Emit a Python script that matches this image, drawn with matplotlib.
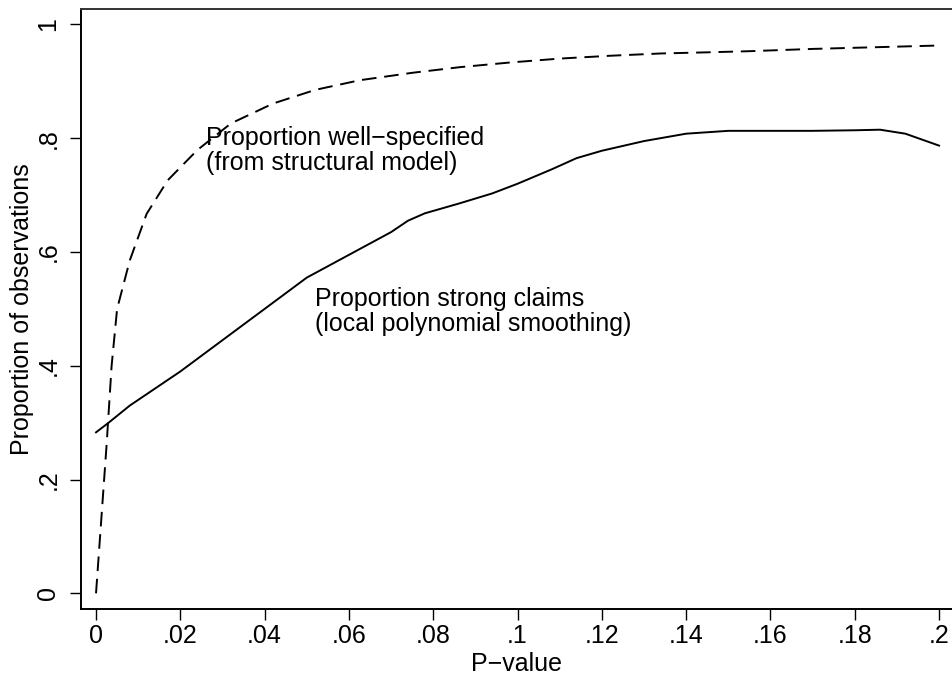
import matplotlib
matplotlib.use("Agg")
import matplotlib.pyplot as plt

plt.rcParams['font.family'] = ['Liberation Sans', 'DejaVu Sans']

# proportion well-specified (structural model)
wellspec_p = [0.0, 0.0025, 0.0037, 0.005, 0.008, 0.012, 0.017, 0.024, 0.032,
              0.042, 0.052, 0.0626, 0.075, 0.0864, 0.098, 0.110, 0.122, 0.134,
              0.145, 0.155, 0.170, 0.185, 0.2]
wellspec_y = [0.0, 0.26, 0.40, 0.50, 0.585, 0.667, 0.726, 0.779, 0.826,
              0.861, 0.885, 0.902, 0.915, 0.925, 0.933, 0.940, 0.945, 0.949,
              0.951, 0.953, 0.957, 0.960, 0.963]

# proportion strong claims (local polynomial smoothing)
strong_p = [0.0, 0.003, 0.008, 0.02, 0.03, 0.04, 0.05, 0.06, 0.07, 0.074,
            0.078, 0.086, 0.094, 0.1, 0.108, 0.114, 0.12, 0.13, 0.14, 0.15,
            0.16, 0.17, 0.18, 0.186, 0.192, 0.2]
strong_y = [0.283, 0.30, 0.33, 0.39, 0.445, 0.50, 0.555, 0.595, 0.635, 0.655,
            0.668, 0.685, 0.703, 0.72, 0.745, 0.765, 0.778, 0.795, 0.808,
            0.813, 0.813, 0.813, 0.814, 0.815, 0.808, 0.787]

xticks = [0, 0.02, 0.04, 0.06, 0.08, 0.1, 0.12, 0.14, 0.16, 0.18, 0.2]
xticklabels = ['0', '.02', '.04', '.06', '.08', '.1', '.12', '.14', '.16', '.18', '.2']
yticks = [0, 0.2, 0.4, 0.6, 0.8, 1.0]
yticklabels = ['0', '.2', '.4', '.6', '.8', '1']

fs = 18

fig = plt.figure(figsize=(9.53, 6.77), dpi=100)
ax = fig.add_axes([0.0847, 0.1004, 0.9153, 0.887])

ax.plot(wellspec_p, wellspec_y, color='black', lw=1.4, linestyle=(0, (7.5, 4)))
ax.plot(strong_p, strong_y, color='black', lw=1.4)

ax.text(0.026, 0.779, "Proportion well\u2212specified\n(from structural model)",
        fontsize=fs, ha='left', va='center', linespacing=1.05)
ax.text(0.052, 0.495, "Proportion strong claims\n(local polynomial smoothing)",
        fontsize=fs, ha='left', va='center', linespacing=1.05)

ax.set_xlim(-0.00363, 0.2033)
ax.set_ylim(-0.0276, 1.028)
ax.set_xticks(xticks)
ax.set_xticklabels(xticklabels)
ax.set_yticks(yticks)
ax.set_yticklabels(yticklabels, rotation=90, va='center')

ax.tick_params(axis='both', direction='out', length=7.7, width=1.0,
               labelsize=fs, color='black')
ax.tick_params(axis='x', pad=3)
ax.tick_params(axis='y', pad=7)

ax.spines['right'].set_visible(False)
for s in ['left', 'bottom', 'top']:
    ax.spines[s].set_linewidth(1.4)
ax.spines['top'].set_color('#333333')

ax.set_xlabel("P\u2212value", fontsize=fs, labelpad=3)
ax.set_ylabel("Proportion of observations", fontsize=fs, labelpad=2)

fig.savefig("out.png", dpi=100)
